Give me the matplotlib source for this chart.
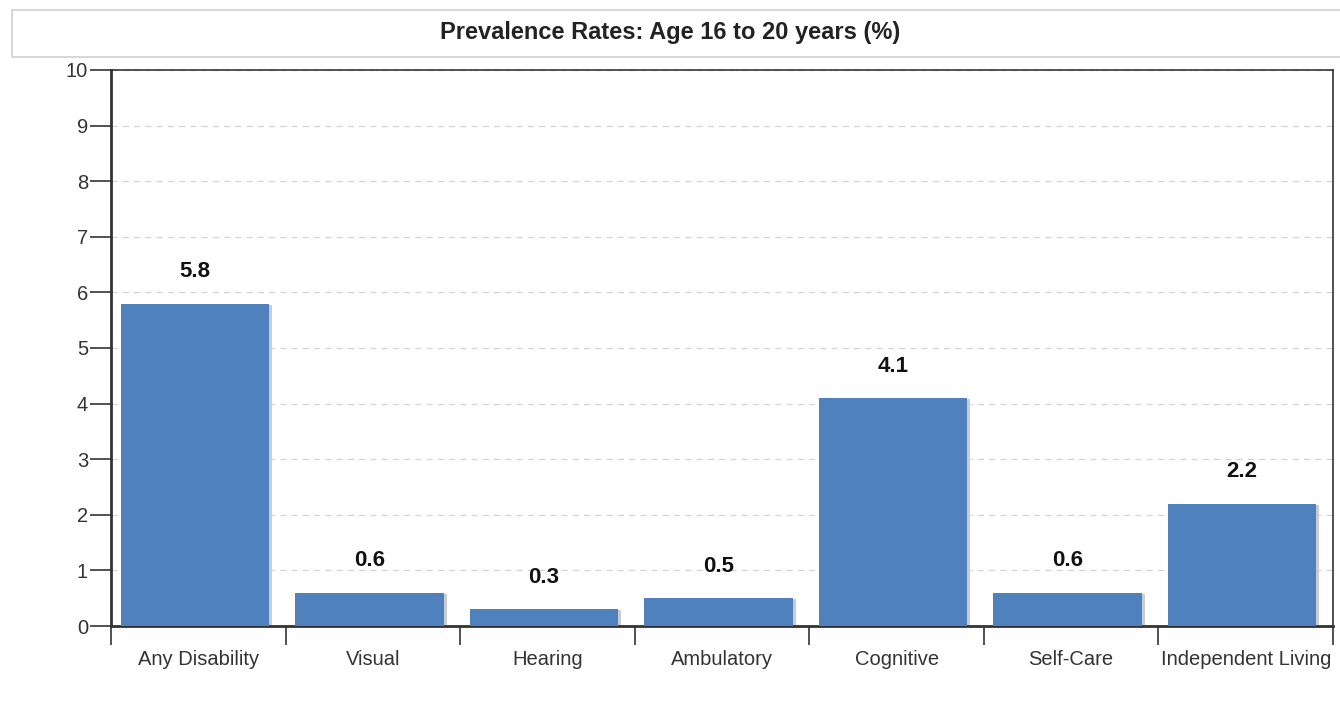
"""Prevalence rates bar chart, age 16 to 20."""
import matplotlib
matplotlib.use("Agg")
import matplotlib.pyplot as plt
from matplotlib.patches import Rectangle
from matplotlib import transforms

plt.rcParams["font.family"] = ["Liberation Sans", "DejaVu Sans"]

categories = ["Any Disability", "Visual", "Hearing", "Ambulatory",
              "Cognitive", "Self-Care", "Independent Living"]
values = [5.8, 0.6, 0.3, 0.5, 4.1, 0.6, 2.2]
title = "Prevalence Rates: Age 16 to 20 years (%)"

BAR = "#4f81bd"

fig = plt.figure(figsize=(13.4, 7.17), dpi=100)
ax = fig.add_axes([0.0828, 0.1269, 0.912, 0.7755])

x = range(len(categories))
centers = [i - 0.02 for i in x]

# soft grey shadow to the right of each bar
shadow = transforms.offset_copy(ax.transData, fig=fig, x=3, y=-1, units="dots")
ax.bar(centers, values, width=0.85, color="#cccccc", zorder=2, transform=shadow)
ax.bar(centers, values, width=0.85, color=BAR, zorder=3)

for c, v in zip(centers, values):
    ax.annotate(f"{v:.1f}", (c, v), xytext=(0, 19), textcoords="offset points",
                ha="center", va="baseline", fontsize=16, fontweight="bold", color="#111111")

ax.set_xlim(-0.5, len(categories) - 0.5)
ax.set_ylim(0, 10)
ax.set_yticks(range(0, 11))
ax.yaxis.grid(True, linestyle=(0, (5, 4)), color="#d5d5d5", linewidth=0.9)
ax.set_axisbelow(True)

# category ticks sit on the boundaries, labels in the middle
ax.set_xticks([i + 0.5 for i in range(-1, len(categories))])
ax.set_xticklabels([])
ax.set_xticks(list(x), minor=True)
ax.set_xticklabels(categories, minor=True)
ax.tick_params(axis="x", which="major", length=14, width=1.2, color="#333333")
ax.tick_params(axis="x", which="minor", length=0, pad=17, labelsize=14.5, labelcolor="#333333")
ax.tick_params(axis="y", length=15, width=1.2, color="#333333", labelsize=14.5,
               labelcolor="#333333", pad=1.5)

for side in ["left", "bottom"]:
    ax.spines[side].set_linewidth(2)
    ax.spines[side].set_color("#333333")
for side in ["top", "right"]:
    ax.spines[side].set_linewidth(1.2)
    ax.spines[side].set_color("#333333")

# title box
fig.patches.append(Rectangle((12 / 1340, 1 - 57 / 717), 1.0, 47 / 717,
                             transform=fig.transFigure, facecolor="white",
                             edgecolor="#d0d0d0", linewidth=1.2))
fig.text(0.5, 1 - 33 / 717, title, ha="center", va="center",
         fontsize=17, fontweight="bold", color="#222222")

fig.savefig("out.png", dpi=100)
